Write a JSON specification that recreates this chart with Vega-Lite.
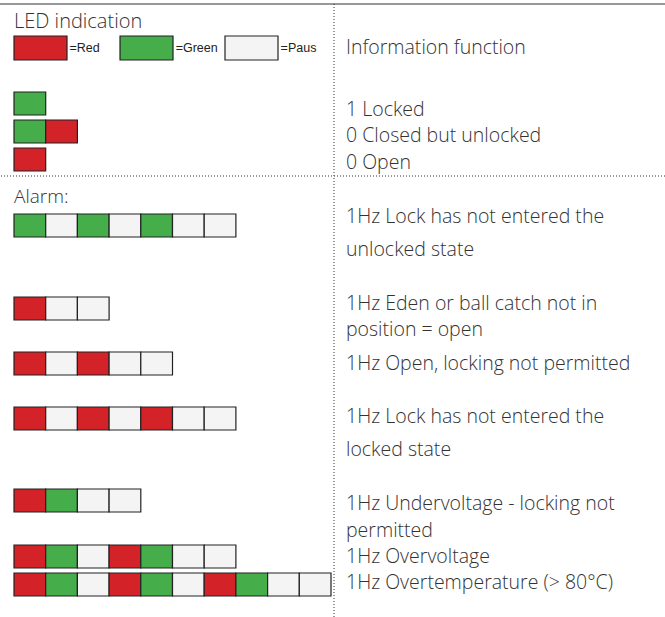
{
  "$schema": "https://vega.github.io/schema/vega-lite/v6.json",
  "width": 665,
  "height": 617,
  "autosize": {"type": "none"},
  "padding": 0,
  "background": "white",
  "config": {"view": {"stroke": null}, "axis": {"disable": true}},
  "datasets": {
    "cells": [
      {"pattern": "Locked", "y": 103.5, "slot": 0, "led": "Green"},
      {"pattern": "Closed", "y": 131.5, "slot": 0, "led": "Green"},
      {"pattern": "Closed", "y": 131.5, "slot": 1, "led": "Red"},
      {"pattern": "Open", "y": 159.5, "slot": 0, "led": "Red"},
      {"pattern": "A1", "y": 225.5, "slot": 0, "led": "Green"},
      {"pattern": "A1", "y": 225.5, "slot": 1, "led": "Paus"},
      {"pattern": "A1", "y": 225.5, "slot": 2, "led": "Green"},
      {"pattern": "A1", "y": 225.5, "slot": 3, "led": "Paus"},
      {"pattern": "A1", "y": 225.5, "slot": 4, "led": "Green"},
      {"pattern": "A1", "y": 225.5, "slot": 5, "led": "Paus"},
      {"pattern": "A1", "y": 225.5, "slot": 6, "led": "Paus"},
      {"pattern": "A2", "y": 308.5, "slot": 0, "led": "Red"},
      {"pattern": "A2", "y": 308.5, "slot": 1, "led": "Paus"},
      {"pattern": "A2", "y": 308.5, "slot": 2, "led": "Paus"},
      {"pattern": "A3", "y": 363.5, "slot": 0, "led": "Red"},
      {"pattern": "A3", "y": 363.5, "slot": 1, "led": "Paus"},
      {"pattern": "A3", "y": 363.5, "slot": 2, "led": "Red"},
      {"pattern": "A3", "y": 363.5, "slot": 3, "led": "Paus"},
      {"pattern": "A3", "y": 363.5, "slot": 4, "led": "Paus"},
      {"pattern": "A4", "y": 418.5, "slot": 0, "led": "Red"},
      {"pattern": "A4", "y": 418.5, "slot": 1, "led": "Paus"},
      {"pattern": "A4", "y": 418.5, "slot": 2, "led": "Red"},
      {"pattern": "A4", "y": 418.5, "slot": 3, "led": "Paus"},
      {"pattern": "A4", "y": 418.5, "slot": 4, "led": "Red"},
      {"pattern": "A4", "y": 418.5, "slot": 5, "led": "Paus"},
      {"pattern": "A4", "y": 418.5, "slot": 6, "led": "Paus"},
      {"pattern": "A5", "y": 500.5, "slot": 0, "led": "Red"},
      {"pattern": "A5", "y": 500.5, "slot": 1, "led": "Green"},
      {"pattern": "A5", "y": 500.5, "slot": 2, "led": "Paus"},
      {"pattern": "A5", "y": 500.5, "slot": 3, "led": "Paus"},
      {"pattern": "A6", "y": 556.5, "slot": 0, "led": "Red"},
      {"pattern": "A6", "y": 556.5, "slot": 1, "led": "Green"},
      {"pattern": "A6", "y": 556.5, "slot": 2, "led": "Paus"},
      {"pattern": "A6", "y": 556.5, "slot": 3, "led": "Red"},
      {"pattern": "A6", "y": 556.5, "slot": 4, "led": "Green"},
      {"pattern": "A6", "y": 556.5, "slot": 5, "led": "Paus"},
      {"pattern": "A6", "y": 556.5, "slot": 6, "led": "Paus"},
      {"pattern": "A7", "y": 584.5, "slot": 0, "led": "Red"},
      {"pattern": "A7", "y": 584.5, "slot": 1, "led": "Green"},
      {"pattern": "A7", "y": 584.5, "slot": 2, "led": "Paus"},
      {"pattern": "A7", "y": 584.5, "slot": 3, "led": "Red"},
      {"pattern": "A7", "y": 584.5, "slot": 4, "led": "Green"},
      {"pattern": "A7", "y": 584.5, "slot": 5, "led": "Paus"},
      {"pattern": "A7", "y": 584.5, "slot": 6, "led": "Red"},
      {"pattern": "A7", "y": 584.5, "slot": 7, "led": "Green"},
      {"pattern": "A7", "y": 584.5, "slot": 8, "led": "Paus"},
      {"pattern": "A7", "y": 584.5, "slot": 9, "led": "Paus"}
    ],
    "legend": [
      {"led": "Red", "x": 0.336, "lx": 1.25, "y": 48, "label": "=Red"},
      {"led": "Green", "x": 3.68, "lx": 4.6, "y": 48, "label": "=Green"},
      {"led": "Paus", "x": 6.992, "lx": 7.91, "y": 48, "label": "=Paus"}
    ],
    "texts": [
      {"x": -0.5, "y": 22, "text": "LED indication", "size": 20},
      {"x": -0.5, "y": 197, "text": "Alarm:", "size": 19},
      {"x": 9.973, "y": 48, "text": "Information function", "size": 19.5},
      {"x": 9.973, "y": 110, "text": "1 Locked", "size": 19.5},
      {"x": 9.973, "y": 136, "text": "0 Closed but unlocked", "size": 19.5},
      {"x": 9.973, "y": 163, "text": "0 Open", "size": 19.5},
      {"x": 9.973, "y": 217, "text": "1Hz Lock has not entered the", "size": 19.5},
      {"x": 9.973, "y": 250, "text": "unlocked state", "size": 19.5},
      {"x": 9.973, "y": 304, "text": "1Hz Eden or ball catch not in", "size": 19.5},
      {"x": 9.973, "y": 330, "text": "position = open", "size": 19.5},
      {"x": 9.973, "y": 364, "text": "1Hz Open, locking not permitted", "size": 19.5},
      {"x": 9.973, "y": 417, "text": "1Hz Lock has not entered the", "size": 19.5},
      {"x": 9.973, "y": 450, "text": "locked state", "size": 19.5},
      {"x": 9.973, "y": 504, "text": "1Hz Undervoltage - locking not", "size": 19.5},
      {"x": 9.973, "y": 531, "text": "permitted", "size": 19.5},
      {"x": 9.973, "y": 557, "text": "1Hz Overvoltage", "size": 19.5},
      {"x": 9.973, "y": 583, "text": "1Hz Overtemperature (> 80°C)", "size": 19.5}
    ]
  },
  "layer": [
    {
      "data": {"values": [{}]},
      "mark": {"type": "rule", "color": "#333333", "strokeWidth": 1},
      "encoding": {"y": {"datum": 4, "scale": {"domain": [0, 617], "reverse": true, "nice": false, "zero": false}, "type": "quantitative"}}
    },
    {
      "data": {"values": [{}]},
      "mark": {"type": "rule", "color": "#333333", "strokeWidth": 1, "strokeDash": [1, 2]},
      "encoding": {"y": {"datum": 176, "type": "quantitative"}}
    },
    {
      "data": {"values": [{}]},
      "mark": {"type": "rule", "color": "#333333", "strokeWidth": 1, "strokeDash": [1, 2]},
      "encoding": {
        "x": {"datum": 9.595, "type": "quantitative", "scale": {"domain": [-0.9416, 20.036], "nice": false, "zero": false}},
        "y": {"datum": 4, "type": "quantitative"},
        "y2": {"datum": 617}
      }
    },
    {
      "data": {"name": "cells"},
      "mark": {"type": "rect", "width": 31.7, "height": 23, "stroke": "#222222", "strokeWidth": 1.2},
      "encoding": {
        "x": {"field": "slot", "type": "quantitative"},
        "y": {"field": "y", "type": "quantitative"},
        "fill": {"field": "led", "type": "nominal", "legend": null, "scale": {"domain": ["Red", "Green", "Paus"], "range": ["#d42229", "#46ad4b", "#f4f4f4"]}}
      }
    },
    {
      "data": {"name": "legend"},
      "mark": {"type": "rect", "width": 53, "height": 24, "stroke": "#222222", "strokeWidth": 1.2},
      "encoding": {
        "x": {"field": "x", "type": "quantitative"},
        "y": {"field": "y", "type": "quantitative"},
        "fill": {"field": "led", "type": "nominal", "legend": null}
      }
    },
    {
      "data": {"name": "legend"},
      "mark": {"type": "text", "align": "left", "baseline": "middle", "font": "Liberation Sans", "fontSize": 12.5, "color": "#222222"},
      "encoding": {
        "x": {"field": "lx", "type": "quantitative"},
        "y": {"field": "y", "type": "quantitative"},
        "text": {"field": "label"}
      }
    },
    {
      "data": {"name": "texts"},
      "mark": {"type": "text", "align": "left", "baseline": "middle", "font": "Open Sans", "fontWeight": 300, "color": "#333333"},
      "encoding": {
        "x": {"field": "x", "type": "quantitative"},
        "y": {"field": "y", "type": "quantitative"},
        "size": {"field": "size", "type": "quantitative", "legend": null, "scale": null},
        "text": {"field": "text"}
      }
    }
  ]
}
